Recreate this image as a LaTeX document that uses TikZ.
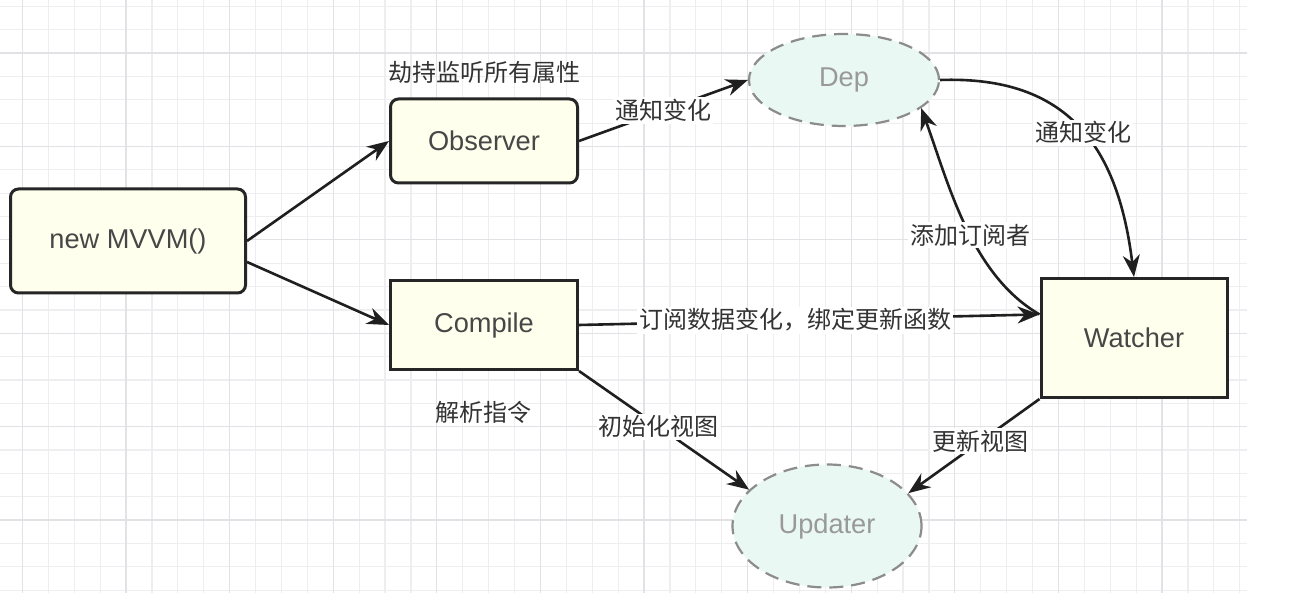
\documentclass[tikz,border=0pt]{standalone}
\usepackage{fontspec}
\setmainfont{Liberation Sans}
\newfontfamily\cjk{Noto Sans CJK SC}
\usetikzlibrary{shapes.geometric,arrows.meta}

\definecolor{boxfill}{HTML}{FFFFEE}
\definecolor{ovalfill}{HTML}{E9F8F3}
\definecolor{gridminor}{HTML}{EEEEF1}
\definecolor{gridmajor}{HTML}{E2E2E6}

\tikzset{
	block/.style={draw=black!85, line width=1.5pt, fill=boxfill, text=black!72,
		font=\fontsize{13.6}{16}\selectfont, minimum width=93.5pt, minimum height=42pt},
	oval/.style={ellipse, draw=black!45, dashed, dash pattern=on 7pt off 4pt, line width=1.1pt,
		fill=ovalfill, text=black!40, font=\fontsize{13.6}{16}\selectfont},
	link/.style={draw=black!88, line width=1.3pt, -{Stealth[length=11pt,width=8.5pt]}},
	tag/.style={font=\cjk\fontsize{12}{14}\selectfont, text=black!80, inner sep=1pt},
	wtag/.style={tag, fill=white}
}

\begin{document}
\begin{tikzpicture}[x=0.5pt, y=-0.5pt]
	\useasboundingbox (0,0) rectangle (1316,608);
	\fill[white] (0,0) rectangle (1316,608);

	% grid paper: minor lines, every fourth line darker
	\foreach \i in {1,...,48} {
		\draw[gridminor, line width=0.6pt] (-3.5+25.9*\i,0) -- (-3.5+25.9*\i,593);
	}
	\foreach \j in {0,...,25} {
		\draw[gridminor, line width=0.6pt] (0,6.4+23.35*\j) -- (1247,6.4+23.35*\j);
	}
	\foreach \i in {0,...,11} {
		\draw[gridmajor, line width=0.6pt] (22.4+103.6*\i,0) -- (22.4+103.6*\i,593);
	}
	\foreach \j in {0,...,5} {
		\draw[gridmajor, line width=0.6pt] (0,53+93.4*\j) -- (1247,53+93.4*\j);
	}

	% boxes
	\node[block, rounded corners=4pt, minimum width=117.5pt, minimum height=52pt] (mvvm) at (128,241) {new MVVM()};
	\node[block, rounded corners=4pt] (observer) at (484,141) {Observer};
	\node[block, minimum height=44.5pt] (compile) at (484,325) {Compile};
	\node[block, minimum width=93pt, minimum height=59.5pt] (watcher) at (1134,338) {Watcher};

	% dashed ovals
	\node[oval, minimum width=95pt, minimum height=46pt] (dep) at (844,80) {Dep};
	\node[oval, minimum width=94.5pt, minimum height=61.5pt] (updater) at (827,526) {Updater};

	% captions beside the boxes
	\node[tag] (hijack) at (484,72) {劫持监听所有属性};
	\node[tag] (parse) at (483,412) {解析指令};

	% connectors
	\draw[link] (mvvm.east) -- (observer.west);
	\draw[link] (mvvm.-10) -- (compile.west);
	\draw[link] (observer.east) -- (dep.west) node[wtag, pos=0.5] {通知变化};
	\draw[link] (dep.east) to[out=2, in=97, looseness=1.2] node[wtag, pos=0.52] {通知变化} (watcher.north);
	\draw[link] (watcher.166) to[out=150, in=-70, looseness=0.85] node[wtag, pos=0.45] {添加订阅者} (dep.-20);
	\draw[link] (compile.east) -- (watcher.166) node[wtag, pos=0.47] {订阅数据变化，绑定更新函数};
	\draw[link] (compile.south east) -- (updater.155) node[wtag, pos=0.47] {初始化视图};
	\draw[link] (watcher.south west) -- (updater.22) node[wtag, pos=0.45] {更新视图};
\end{tikzpicture}
\end{document}
